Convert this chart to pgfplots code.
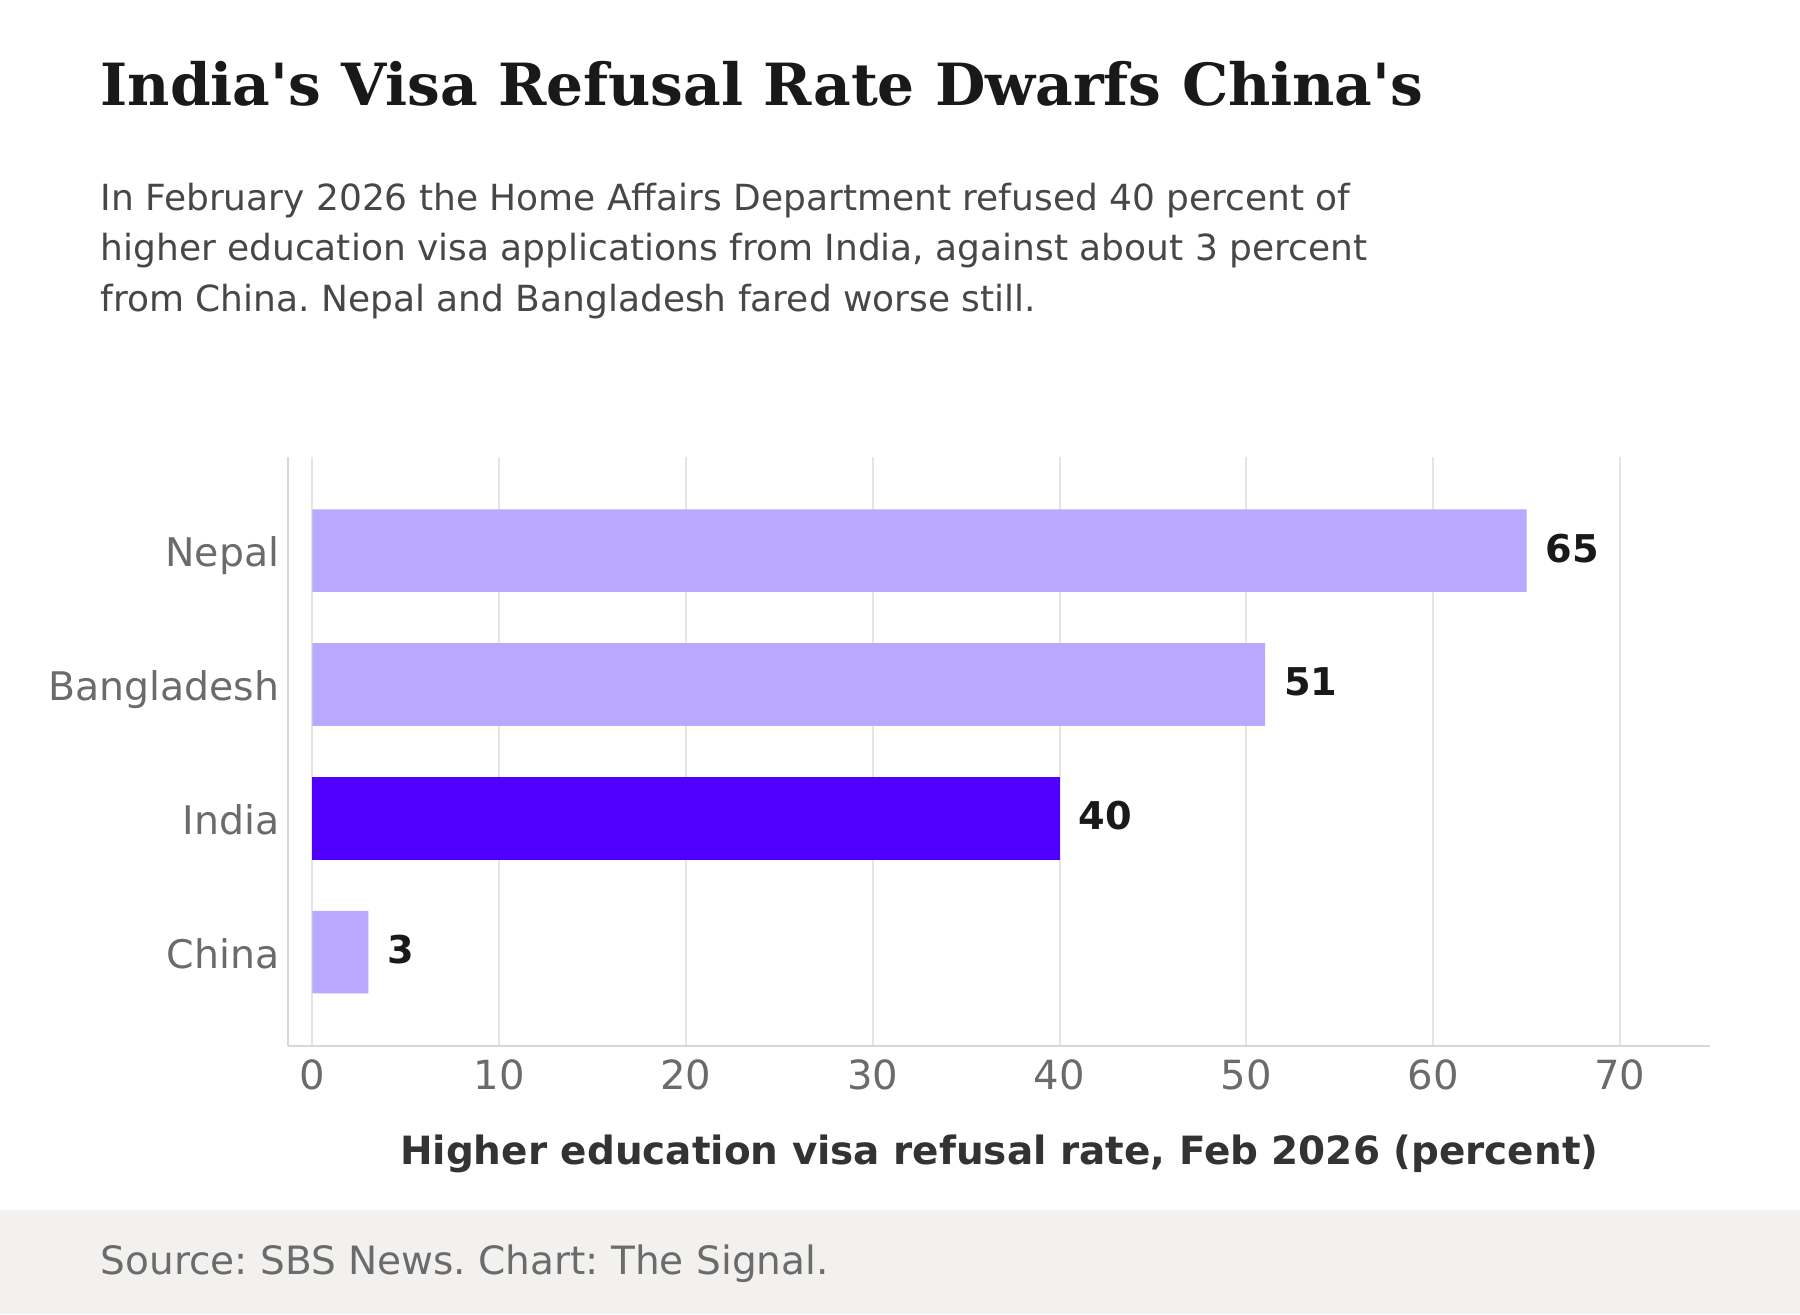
\documentclass[border=0pt]{standalone}
\usepackage{pgfplots}
\pgfplotsset{compat=1.18}
\usepackage{fontspec}
\setmainfont{DejaVu Sans}
\newfontfamily\titlefont{DejaVu Serif}
\frenchspacing

\definecolor{barlight}{HTML}{B8A8FE}
\definecolor{barindia}{HTML}{5000FF}
\definecolor{gridc}{HTML}{E6E5E1}
\definecolor{axisc}{HTML}{D9D8D2}
\definecolor{tickc}{HTML}{6B6B6B}
\definecolor{footbg}{HTML}{F2F1EF}

% 1 px of the 1568-wide reference = 0.3pt
\def\u{0.3pt}

\begin{document}
\begin{tikzpicture}
\useasboundingbox (0,0) rectangle (470.4pt,-343.5pt);
\fill[white] (0,0) rectangle (470.4pt,-343.5pt);
\fill[footbg] (0,{-1054*\u}) rectangle (470.4pt,-343.5pt);

\node[anchor=base west, inner sep=0, text=black!90] at ({87*\u},{-92*\u})
  {\fontsize{15.2pt}{18pt}\titlefont\bfseries India's Visa Refusal Rate Dwarfs China's};
\node[anchor=base west, inner sep=0, text=black!72] at ({87*\u},{-183*\u})
  {\fontsize{9.4pt}{12pt}\selectfont In February 2026 the Home Affairs Department refused 40 percent of};
\node[anchor=base west, inner sep=0, text=black!72] at ({87*\u},{-227*\u})
  {\fontsize{9.4pt}{12pt}\selectfont higher education visa applications from India, against about 3 percent};
\node[anchor=base west, inner sep=0, text=black!72] at ({87*\u},{-271*\u})
  {\fontsize{9.4pt}{12pt}\selectfont from China. Nepal and Bangladesh fared worse still.};
\node[anchor=base west, inner sep=0, text=tickc] at ({87*\u},{-1110*\u})
  {\fontsize{10.2pt}{12pt}\selectfont Source: SBS News. Chart: The Signal.};

\begin{axis}[
    at={({251*\u},{-911*\u})}, anchor=south west,
    scale only axis,
    width=371.7pt, height=153.9pt,
    xbar, bar width=21.6pt,
    xmin=-1.3, xmax=74.85,
    ymin=-0.7, ymax=3.7,
    xtick={0,10,...,70},
    ytick={0,1,2,3},
    yticklabels={China,India,Bangladesh,Nepal},
    major tick length=0pt,
    axis lines=left,
    axis line style={draw=axisc, line width=0.6pt, -},
    xmajorgrids=true,
    grid style={draw=gridc, line width=0.5pt},
    /pgf/number format/assume math mode=true,
    xticklabel style={font=\fontsize{10.5pt}{12pt}\selectfont, text=tickc},
    yticklabel style={font=\fontsize{10.3pt}{12pt}\selectfont, text=tickc,
      xshift=1.2pt, text height=8.4pt, text depth=0pt},
    xlabel={Higher education visa refusal rate, Feb 2026 (percent)},
    xlabel style={at={(axis description cs:0.5,0)}, anchor=base, yshift={-103*\u},
      font=\fontsize{10.17pt}{12pt}\selectfont\bfseries, text=black!80},
    nodes near coords,
    nodes near coords style={font=\fontsize{10pt}{12pt}\selectfont\bfseries, text=black!90,
      anchor=west, xshift=1.5pt, yshift=0.6pt,
      /pgf/number format/assume math mode=true},
    point meta=explicit symbolic,
]
\addplot[fill=barlight, draw=none, bar shift=0pt] coordinates {
    (3,0) [3]
    (51,2) [51]
    (65,3) [65]
};
\addplot[fill=barindia, draw=none, bar shift=0pt] coordinates {
    (40,1) [40]
};
\end{axis}
\end{tikzpicture}
\end{document}
